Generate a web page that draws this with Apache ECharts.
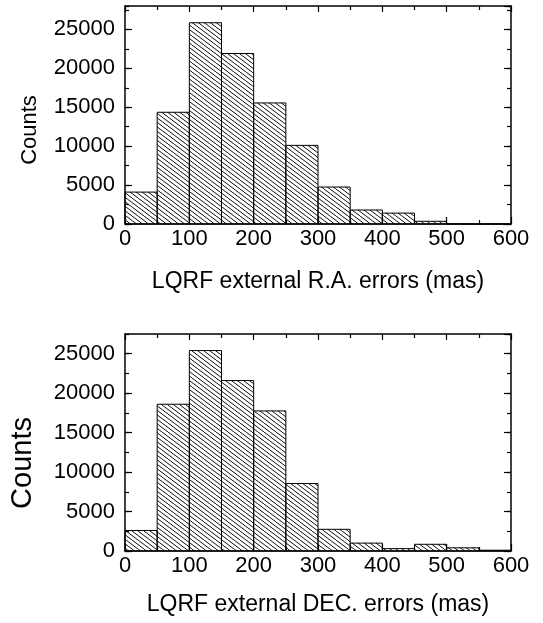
<!DOCTYPE html>
<html>
<head>
<meta charset="utf-8">
<script src="https://cdn.jsdelivr.net/npm/echarts@6/dist/echarts.min.js"></script>
<style>html,body{margin:0;padding:0;background:#fff}#c{width:543px;height:623px}</style>
</head>
<body>
<div id="c"></div>
<script>
// ---- data ----
const binStarts = [0, 50, 100, 150, 200, 250, 300, 350, 400, 450, 500, 550];
const binWidth = 50;
const raCounts  = [4100, 14350, 25850, 21900, 15550, 10100, 4750, 1800, 1400, 350, 0, 0];
const decCounts = [2600, 18600, 25400, 21600, 17750, 8550, 2750, 1000, 300, 850, 400, 100];
const xTicks = [0, 100, 200, 300, 400, 500, 600];
const yTicks = [0, 5000, 10000, 15000, 20000, 25000];
const raTitle = 'LQRF external R.A. errors (mas)';
const decTitle = 'LQRF external DEC. errors (mas)';
const yTitle = 'Counts';

const FONT = '"Liberation Sans", Arial, sans-serif';

function hatch() {
  const c = document.createElement('canvas');
  c.width = 12; c.height = 9;
  const g = c.getContext('2d');
  g.strokeStyle = '#111';
  g.lineWidth = 1;
  for (const dx of [-12, -6, 0, 6, 12]) {
    g.beginPath(); g.moveTo(dx, 0); g.lineTo(dx + 12, 9); g.stroke();
  }
  return c;
}
const pattern = { image: hatch(), repeat: 'repeat' };

const grids = [
  { left: 125, right: 32, top: 6, height: 218, ymax: 28000 },
  { left: 125, right: 32, top: 334, height: 217, ymax: 27500 }
];

const xAxis = [], yAxis = [], series = [];
grids.forEach((g, gi) => {
  xAxis.push({
    type: 'value', gridIndex: gi, position: 'bottom', min: xTicks[0], max: xTicks[xTicks.length - 1], interval: 100,
    axisLine: { show: true, onZero: false, lineStyle: { color: '#000', width: 1.5 } },
    axisTick: { show: true, inside: true, length: 7, lineStyle: { color: '#000', width: 1.2 } },
    minorTick: { show: true, splitNumber: 2, length: 4, lineStyle: { color: '#000', width: 1.2 } },
    axisLabel: { show: true, margin: 4, color: '#000', fontSize: 22, fontFamily: FONT },
    splitLine: { show: false }
  });
  xAxis.push({
    type: 'value', gridIndex: gi, position: 'top', min: xTicks[0], max: xTicks[xTicks.length - 1], interval: 100,
    axisLine: { show: true, onZero: false, lineStyle: { color: '#000', width: 1.5 } },
    axisTick: { show: true, inside: true, length: 6, lineStyle: { color: '#000', width: 1.2 } },
    minorTick: { show: true, splitNumber: 2, length: 4, lineStyle: { color: '#000', width: 1.2 } },
    axisLabel: { show: false },
    splitLine: { show: false }
  });
  const mk = (pos, interval, len, labels, line) => ({
    type: 'value', gridIndex: gi, position: pos, min: 0, max: g.ymax, interval: interval,
    axisLine: { show: line, onZero: false, lineStyle: { color: '#000', width: 1.5 } },
    axisTick: { show: true, inside: true, length: len, lineStyle: { color: '#000', width: 1.2 } },
    axisLabel: labels ? { show: true, margin: 10, color: '#000', fontSize: 22, fontFamily: FONT, showMaxLabel: false,
      formatter: v => (yTicks.indexOf(v) >= 0 ? String(v) : '') } : { show: false },
    splitLine: { show: false }
  });
  const base = yAxis.length;
  yAxis.push(mk('left', 5000, 7, true, true));
  yAxis.push(mk('left', 2500, 4, false, false));
  yAxis.push(mk('right', 5000, 7, false, true));
  yAxis.push(mk('right', 2500, 4, false, false));

  const counts = gi === 0 ? raCounts : decCounts;
  series.push({
    type: 'custom',
    xAxisIndex: gi * 2,
    yAxisIndex: base,
    data: binStarts.map((s, i) => [s, counts[i]]),
    renderItem: function (params, api) {
      const x0 = api.value(0), v = api.value(1);
      const p0 = api.coord([x0, 0]);
      const p1 = api.coord([x0 + binWidth, v]);
      return {
        type: 'rect',
        shape: { x: p0[0], y: p1[1], width: p1[0] - p0[0], height: p0[1] - p1[1] },
        style: { fill: pattern, stroke: '#000', lineWidth: 1 }
      };
    },
    silent: true
  });
});

const chart = echarts.init(document.getElementById('c'), null, { renderer: 'canvas' });
chart.setOption({
  animation: false,
  backgroundColor: '#fff',
  grid: grids.map(g => ({ left: g.left, right: g.right, top: g.top, height: g.height, show: false })),
  xAxis: xAxis,
  yAxis: yAxis,
  series: series,
  graphic: [
    { type: 'text', x: 318, y: 282, style: { text: raTitle, font: '23px ' + FONT, fill: '#000', align: 'center', verticalAlign: 'middle' } },
    { type: 'text', x: 318, y: 605, style: { text: decTitle, font: '23px ' + FONT, fill: '#000', align: 'center', verticalAlign: 'middle' } },
    { type: 'text', x: 30, y: 130, rotation: Math.PI / 2, style: { text: yTitle, font: '22px ' + FONT, fill: '#000', align: 'center', verticalAlign: 'middle' } },
    { type: 'text', x: 23, y: 463, rotation: Math.PI / 2, style: { text: yTitle, font: '29px ' + FONT, fill: '#000', align: 'center', verticalAlign: 'middle' } }
  ]
});
</script>
</body>
</html>
